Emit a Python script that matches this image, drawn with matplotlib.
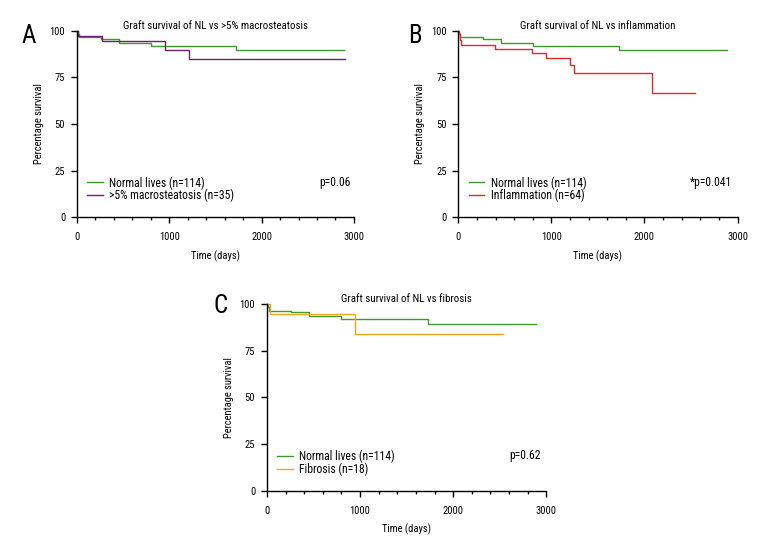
import matplotlib

matplotlib.use('Agg')
import matplotlib.pyplot as plt
from matplotlib import font_manager
from matplotlib.ticker import MultipleLocator

# the original uses a condensed face; take whichever narrow family exists
fams = {f.name for f in font_manager.fontManager.ttflist}
dv_cond = any(f.name == 'DejaVu Sans' and f.stretch == 'condensed'
              for f in font_manager.fontManager.ttflist)
STRETCH = 'normal'
for cand in ['Liberation Sans Narrow', 'Roboto Condensed', 'Open Sans Condensed',
             'Noto Sans Condensed', 'DejaVu Sans Condensed']:
    if cand in fams:
        FAMILY = cand
        break
else:
    if dv_cond:
        FAMILY, STRETCH = 'DejaVu Sans', 'condensed'
    else:
        FAMILY = 'Roboto' if 'Roboto' in fams else 'DejaVu Sans'
plt.rcParams['font.family'] = [FAMILY, 'DejaVu Sans']
plt.rcParams['font.stretch'] = STRETCH

GREEN, PURPLE, RED, ORANGE = '#3f9a2c', '#6c1f6b', '#e6262b', '#f5a51c'
FS = 7.6      # ticks, axis labels
FS_T = 7.8    # panel titles
FS_L = 8.4    # legend and p-values

# Kaplan-Meier step curves (time in days, % survival)
normal_t = [0, 10, 20, 260, 455, 800, 1725, 2890]
normal_s = [100, 98.2, 96.5, 95.6, 93.5, 92.0, 89.5, 89.5]

steat_t = [0, 10, 275, 950, 1210, 2905]
steat_s = [100, 97.1, 94.3, 89.8, 84.9, 84.9]

infl_t = [0, 5, 15, 30, 395, 787, 941, 1199, 1242, 2083, 2541]
infl_s = [100, 98.4, 95.3, 92.2, 90.2, 87.9, 85.2, 81.6, 77.5, 66.6, 66.6]

fib_t = [0, 32, 945, 2531]
fib_s = [100, 94.4, 84.1, 84.1]

panels = [
    ('A', 'Graft survival of NL vs >5% macrosteatosis',
     (steat_t, steat_s, PURPLE, '>5% macrosteatosis (n=35)'), 'p=0.06'),
    ('B', 'Graft survival of NL vs inflammation',
     (infl_t, infl_s, RED, 'Inflammation (n=64)'), '*p=0.041'),
    ('C', 'Graft survival of NL vs fibrosis',
     (fib_t, fib_s, ORANGE, 'Fibrosis (n=18)'), 'p=0.62'),
]
rects = [
    [0.0987, 0.6063, 0.355, 0.338],
    [0.5876, 0.6063, 0.358, 0.338],
    [0.3423, 0.1105, 0.358, 0.3388],
]
letter_xy = [(0.0278, 0.9226), (0.5235, 0.9226), (0.2735, 0.4335)]
p_x = [0.989, 0.981, 0.98]

fig = plt.figure(figsize=(7.8, 5.52), dpi=100)
for (letter, title, other, ptxt), rect, lxy, px in zip(panels, rects, letter_xy, p_x):
    ax = fig.add_axes(rect)
    ax.step(normal_t, normal_s, where='post', color=GREEN, lw=1.0,
            clip_on=False, label='Normal lives (n=114)')
    t, s, c, lab = other
    ax.step(t, s, where='post', color=c, lw=1.0, clip_on=False, label=lab)
    ax.set_xlim(0, 3000)
    ax.set_ylim(0, 100)
    ax.set_xticks([0, 1000, 2000, 3000])
    ax.xaxis.set_minor_locator(MultipleLocator(200))
    ax.set_yticks([0, 25, 50, 75, 100])
    for sp in ('top', 'right'):
        ax.spines[sp].set_visible(False)
    for sp in ('left', 'bottom'):
        ax.spines[sp].set_linewidth(1.0)
    ax.tick_params(which='major', length=4.5, width=1.0, labelsize=FS)
    ax.tick_params(axis='x', which='major', pad=6)
    ax.tick_params(axis='y', which='major', pad=4)
    ax.tick_params(which='minor', length=2.5, width=1.0)
    ax.set_xlabel('Time (days)', fontsize=FS, labelpad=6)
    ax.set_ylabel('Percentage survival', fontsize=FS, labelpad=4)
    ax.set_title(title, fontsize=FS_T, pad=1)
    ax.legend(loc='lower left', bbox_to_anchor=(0.037, 0.08), frameon=False,
              fontsize=FS_L, handlelength=1.35, handletextpad=0.55,
              labelspacing=-0.05, borderaxespad=0, borderpad=0)
    ax.text(px, 0.189, ptxt, transform=ax.transAxes, ha='right', va='center',
            fontsize=FS_L)
    fig.text(lxy[0], lxy[1], letter, fontsize=18, ha='left', va='baseline')

fig.savefig('out.png', dpi=100)
